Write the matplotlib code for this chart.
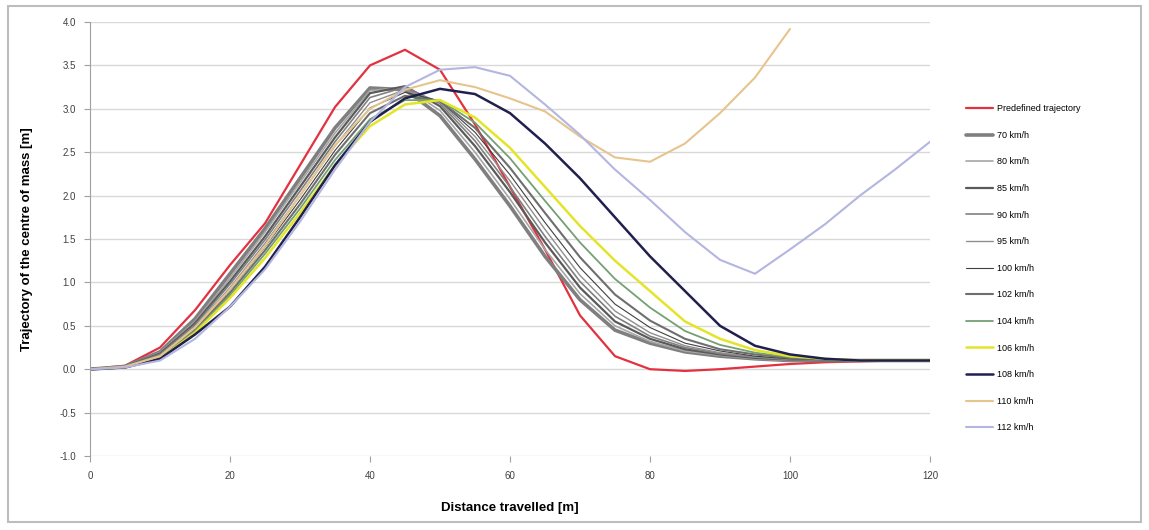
import matplotlib
matplotlib.use("Agg")
import matplotlib.pyplot as plt
from matplotlib.patches import Rectangle

plt.rcParams['font.family'] = ['Liberation Sans', 'DejaVu Sans']

# Distance travelled [m]
distance = [0, 5, 10, 15, 20, 25, 30, 35, 40, 45, 50, 55, 60,
            65, 70, 75, 80, 85, 90, 95, 100, 105, 110, 115, 120]

# Trajectory of the centre of mass [m]
predefined = [0, 0.04, 0.25, 0.68, 1.20, 1.68, 2.35, 3.02, 3.50, 3.68, 3.45, 2.82, 2.10,
              1.38, 0.62, 0.15, 0.00, -0.02, 0.00, 0.03, 0.06, 0.08, 0.09, 0.10, 0.10]
v70 = [0, 0.03, 0.20, 0.58, 1.10, 1.62, 2.20, 2.78, 3.24, 3.22, 2.92, 2.42, 1.88,
       1.30, 0.80, 0.45, 0.30, 0.20, 0.15, 0.12, 0.10, 0.10, 0.10, 0.10, 0.10]
v80 = [0, 0.03, 0.19, 0.55, 1.05, 1.58, 2.15, 2.72, 3.21, 3.25, 2.98, 2.50, 1.96,
       1.38, 0.87, 0.50, 0.32, 0.21, 0.16, 0.12, 0.10, 0.10, 0.10, 0.10, 0.10]
v85 = [0, 0.03, 0.18, 0.53, 1.01, 1.53, 2.10, 2.67, 3.18, 3.26, 3.03, 2.57, 2.04,
       1.46, 0.94, 0.55, 0.35, 0.23, 0.17, 0.13, 0.11, 0.10, 0.10, 0.10, 0.10]
v90 = [0, 0.03, 0.17, 0.51, 0.98, 1.49, 2.05, 2.62, 3.13, 3.25, 3.06, 2.63, 2.10,
       1.53, 1.01, 0.61, 0.38, 0.25, 0.18, 0.14, 0.11, 0.10, 0.10, 0.10, 0.10]
v95 = [0, 0.02, 0.16, 0.49, 0.94, 1.45, 2.00, 2.57, 3.07, 3.22, 3.08, 2.68, 2.17,
       1.61, 1.08, 0.67, 0.42, 0.27, 0.19, 0.14, 0.12, 0.11, 0.10, 0.10, 0.10]
v100 = [0, 0.02, 0.15, 0.47, 0.91, 1.41, 1.95, 2.52, 3.01, 3.19, 3.09, 2.73, 2.24,
        1.69, 1.17, 0.75, 0.48, 0.30, 0.21, 0.15, 0.12, 0.11, 0.10, 0.10, 0.10]
v102 = [0, 0.02, 0.14, 0.46, 0.88, 1.37, 1.90, 2.47, 2.95, 3.15, 3.09, 2.78, 2.32,
        1.80, 1.29, 0.86, 0.56, 0.35, 0.23, 0.17, 0.13, 0.11, 0.10, 0.10, 0.10]
v104 = [0, 0.02, 0.13, 0.44, 0.85, 1.33, 1.85, 2.41, 2.88, 3.10, 3.10, 2.84, 2.43,
        1.94, 1.46, 1.04, 0.71, 0.44, 0.28, 0.19, 0.14, 0.12, 0.10, 0.10, 0.10]
v106 = [0, 0.02, 0.12, 0.42, 0.82, 1.28, 1.80, 2.35, 2.80, 3.05, 3.10, 2.90, 2.55,
        2.10, 1.65, 1.25, 0.90, 0.55, 0.35, 0.22, 0.15, 0.12, 0.10, 0.10, 0.10]
v108 = [0, 0.02, 0.12, 0.40, 0.72, 1.18, 1.75, 2.35, 2.85, 3.12, 3.23, 3.17, 2.95,
        2.60, 2.20, 1.75, 1.30, 0.90, 0.50, 0.27, 0.17, 0.12, 0.10, 0.10, 0.10]
v110 = [0, 0.03, 0.15, 0.48, 0.92, 1.42, 2.00, 2.58, 3.00, 3.22, 3.33, 3.25, 3.12,
        2.97, 2.68, 2.44, 2.39, 2.60, 2.95, 3.36, 3.92, None, None, None, None]
v112 = [0, 0.02, 0.10, 0.35, 0.72, 1.15, 1.70, 2.30, 2.85, 3.25, 3.45, 3.48, 3.38,
        3.05, 2.70, 2.30, 1.95, 1.58, 1.26, 1.10, 1.38, 1.67, 2.00, 2.30, 2.62]

series = [
    ("Predefined trajectory", predefined, "#e2313f", 1.6),
    ("70 km/h", v70, "#7f7f7f", 2.6),
    ("80 km/h", v80, "#a6a6a6", 1.2),
    ("85 km/h", v85, "#5a5a5a", 1.6),
    ("90 km/h", v90, "#808080", 1.2),
    ("95 km/h", v95, "#8f8f8f", 1.0),
    ("100 km/h", v100, "#404040", 0.8),
    ("102 km/h", v102, "#6e6e6e", 1.5),
    ("104 km/h", v104, "#74a074", 1.3),
    ("106 km/h", v106, "#e4e42a", 1.8),
    ("108 km/h", v108, "#20204e", 1.8),
    ("110 km/h", v110, "#e6c48e", 1.5),
    ("112 km/h", v112, "#b3b6e0", 1.5),
]

fig = plt.figure(figsize=(11.49, 5.30), dpi=100)
ax = fig.add_axes([90 / 1149, 1 - 456 / 530, 840 / 1149, 434 / 530])

for label, values, color, lw in series:
    xs = [d for d, v in zip(distance, values) if v is not None]
    ys = [v for v in values if v is not None]
    ax.plot(xs, ys, color=color, linewidth=lw, label=label,
            solid_joinstyle='round', solid_capstyle='round')

ax.set_xlim(0, 120)
ax.set_ylim(-1.0, 4.0)
ax.set_xticks(range(0, 121, 20))
ax.set_yticks([-1.0 + 0.5 * i for i in range(11)])
ax.yaxis.set_major_formatter(matplotlib.ticker.FormatStrFormatter('%.1f'))
ax.grid(axis='y', color='#d9d9d9', linewidth=1.0)
ax.set_axisbelow(True)
for side in ['top', 'right', 'bottom']:
    ax.spines[side].set_visible(False)
ax.spines['left'].set_color('#a0a0a0')
ax.tick_params(axis='both', labelsize=7, colors='#404040', length=4, width=0.8)
ax.tick_params(axis='x', color='#a0a0a0', pad=7)
ax.tick_params(axis='y', color='#a0a0a0', pad=6)

ax.set_xlabel("Distance travelled [m]", fontsize=9.5, fontweight='bold', labelpad=15)
ax.set_ylabel("Trajectory of the centre of mass [m]", fontsize=9.5, fontweight='bold', labelpad=19)

ax.legend(loc='upper left', bbox_to_anchor=(958 / 1149, 1 - 96 / 530),
          bbox_transform=fig.transFigure, frameon=False, fontsize=6.5,
          labelspacing=1.95, handlelength=3.0, handletextpad=0.4)

fig.patches.append(Rectangle((8 / 1149, 8 / 530), 1133 / 1149, 516 / 530,
                             transform=fig.transFigure, fill=False,
                             edgecolor='#bdbdbd', linewidth=1.5))

fig.savefig("out.png", dpi=100)
